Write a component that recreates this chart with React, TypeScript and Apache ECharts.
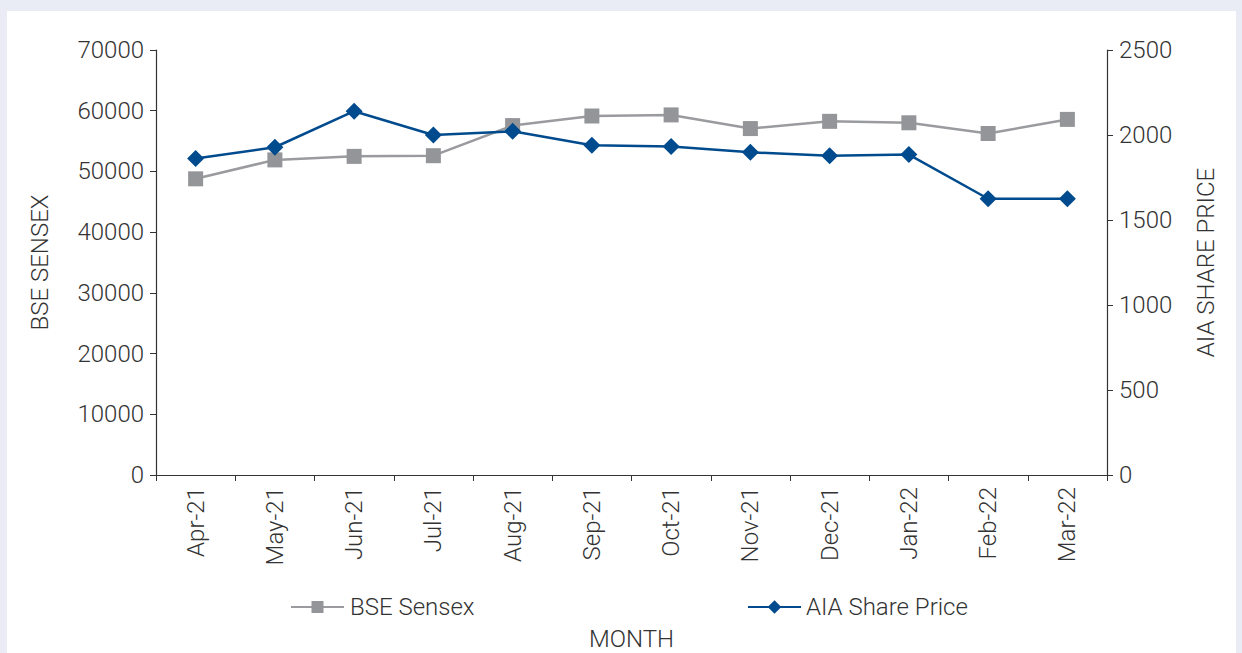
import React, { useEffect, useRef } from "react";
import * as echarts from "echarts";

const months = ["Apr-21", "May-21", "Jun-21", "Jul-21", "Aug-21", "Sep-21", "Oct-21", "Nov-21", "Dec-21", "Jan-22", "Feb-22", "Mar-22"];
const bseSensex = [48780, 51900, 52480, 52590, 57550, 59130, 59310, 57060, 58250, 58010, 56250, 58570];
const aiaSharePrice = [1862, 1928, 2140, 2000, 2022, 1940, 1932, 1898, 1878, 1885, 1625, 1625];
const leftTicks = { min: 0, max: 70000, interval: 10000 };
const rightTicks = { min: 0, max: 2500, interval: 500 };

const FONT = "Roboto";
const TXT = "#333333";

export default function App() {
  const ref = useRef<HTMLDivElement>(null);
  useEffect(() => {
    const chart = echarts.init(ref.current!, null, { renderer: "svg" });
    const txt = { color: TXT, fontSize: 24, fontFamily: FONT, fontWeight: 300 };
    chart.setOption({
      animation: false,
      backgroundColor: "#ffffff",
      grid: { left: 149, right: 129, top: 39, bottom: 178, containLabel: false, outerBoundsMode: "none" },
      legend: [
        {
          data: ["BSE Sensex"],
          left: 278,
          top: 579,
          itemWidth: 53,
          itemHeight: 15,
          textStyle: { ...txt, padding: [0, 0, 0, 1] },
        },
        {
          data: ["AIA Share Price"],
          left: 735,
          top: 579,
          itemWidth: 53,
          itemHeight: 17,
          textStyle: { ...txt },
        },
      ],
      xAxis: {
        type: "category",
        data: months,
        boundaryGap: true,
        name: "MONTH",
        nameLocation: "middle",
        nameGap: 152,
        nameTextStyle: { ...txt },
        axisLine: { lineStyle: { color: "#333", width: 1.2 } },
        axisTick: { show: true, length: 6, inside: false, alignWithLabel: false, lineStyle: { color: "#333" } },
        axisLabel: { ...txt, rotate: 90, margin: 12, interval: 0 },
        splitLine: { show: false },
      },
      yAxis: [
        {
          type: "value",
          ...leftTicks,
          position: "left",
          name: "BSE SENSEX",
          nameLocation: "middle",
          nameGap: 104,
          nameRotate: 90,
          nameTextStyle: { ...txt },
          axisLine: { show: true, lineStyle: { color: "#333", width: 1.2 } },
          axisTick: { show: true, length: 6, lineStyle: { color: "#333" } },
          axisLabel: { ...txt, margin: 12, formatter: (v: number) => String(v) },
          splitLine: { show: false },
        },
        {
          type: "value",
          ...rightTicks,
          position: "right",
          name: "AIA SHARE PRICE",
          nameLocation: "middle",
          nameGap: 87,
          nameRotate: 90,
          nameTextStyle: { ...txt },
          axisLine: { show: true, lineStyle: { color: "#333", width: 1.2 } },
          axisTick: { show: true, length: 6, lineStyle: { color: "#333" } },
          axisLabel: { ...txt, margin: 12, formatter: (v: number) => String(v) },
          splitLine: { show: false },
        },
      ],
      series: [
        {
          name: "BSE Sensex",
          type: "line",
          yAxisIndex: 0,
          data: bseSensex,
          symbol: "rect",
          symbolSize: 15,
          itemStyle: { color: "#939598" },
          lineStyle: { color: "#9a9b9e", width: 2.5 },
          z: 2,
        },
        {
          name: "AIA Share Price",
          type: "line",
          yAxisIndex: 1,
          data: aiaSharePrice,
          symbol: "diamond",
          symbolSize: 17,
          itemStyle: { color: "#004b8d" },
          lineStyle: { color: "#004b8d", width: 2.5 },
          z: 3,
        },
      ],
    });
    return () => chart.dispose();
  }, []);
  return (
    <div style={{ position: "fixed", left: 0, top: 0, width: 1242, height: 653, background: "#e9ecf5" }}>
      <div ref={ref} style={{ position: "absolute", left: 7, top: 11, width: 1229, height: 642 }} />
    </div>
  );
}
